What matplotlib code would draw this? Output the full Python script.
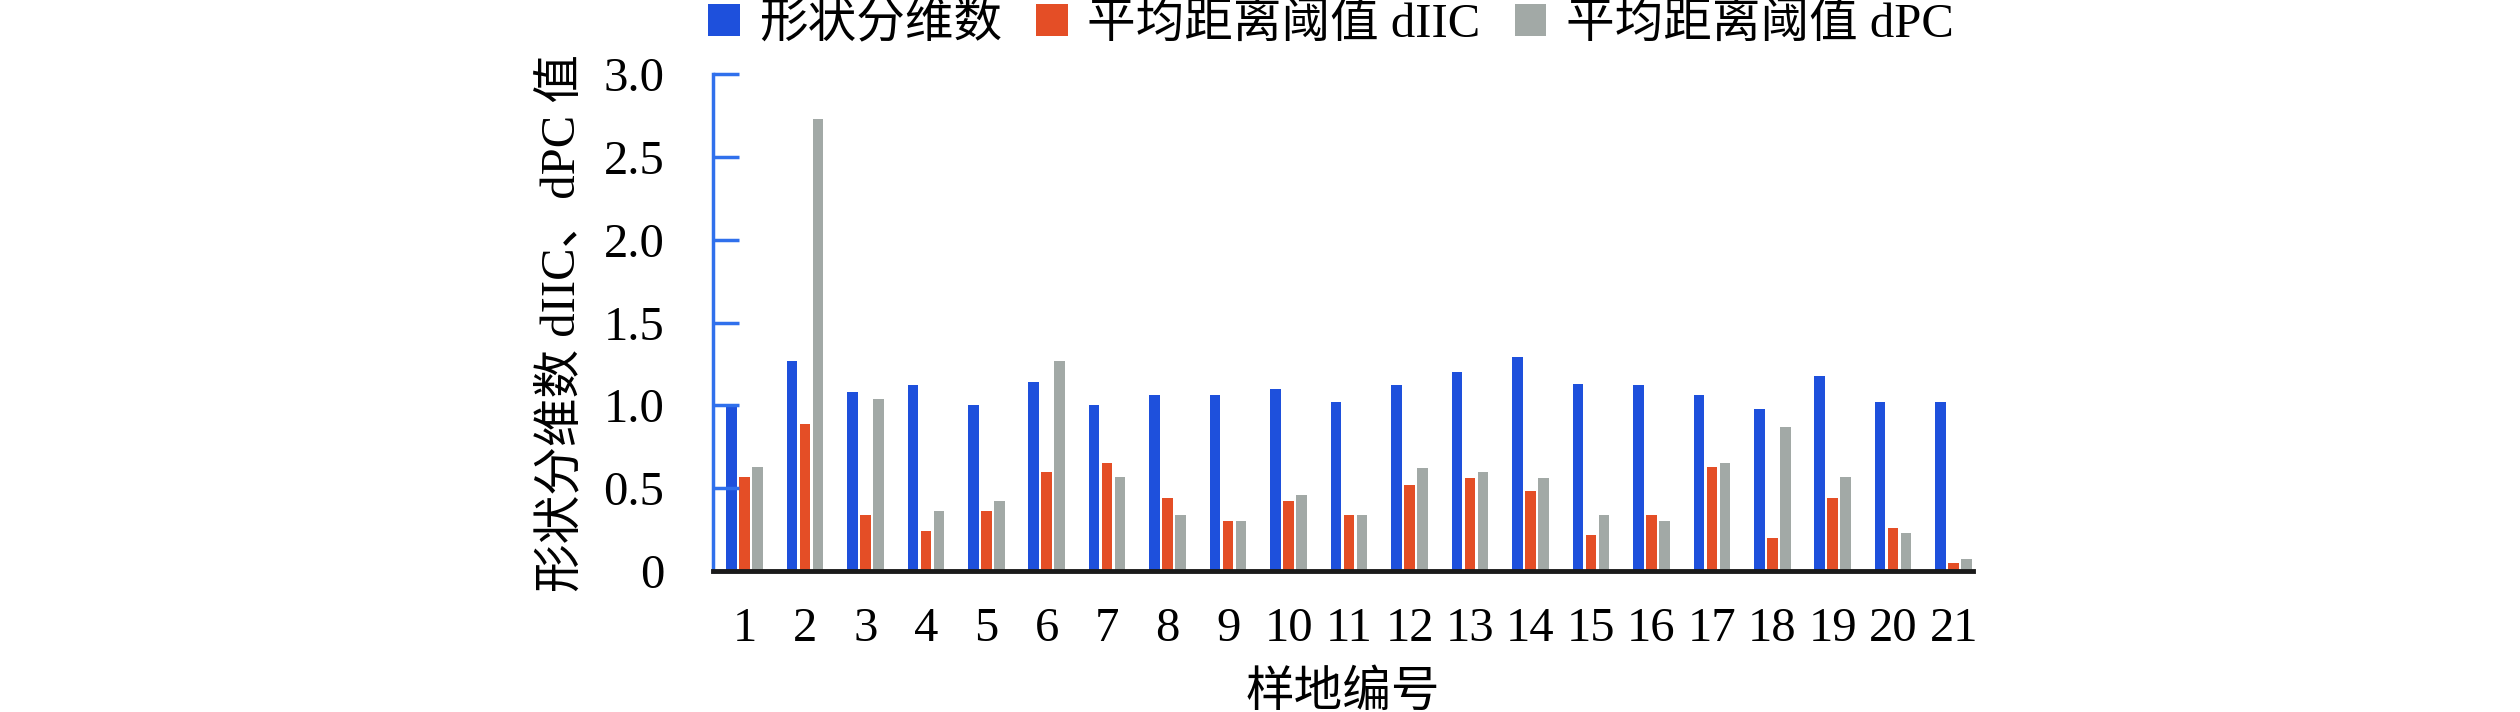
import numpy as np
import matplotlib.pyplot as plt
from matplotlib.patches import Patch

plt.rcParams['font.family'] = ['Liberation Serif', 'Noto Sans CJK SC', 'DejaVu Sans']

# data
sites = [str(i) for i in range(1, 22)]
shape_dim = [1.00, 1.27, 1.08, 1.12, 1.00, 1.14, 1.00, 1.06, 1.06, 1.10, 1.02,
             1.12, 1.20, 1.29, 1.13, 1.12, 1.06, 0.98, 1.18, 1.02, 1.02]
d_iic = [0.57, 0.89, 0.34, 0.24, 0.36, 0.60, 0.65, 0.44, 0.30, 0.42, 0.34,
         0.52, 0.56, 0.48, 0.22, 0.34, 0.63, 0.20, 0.44, 0.26, 0.05]
d_pc = [0.63, 2.73, 1.04, 0.36, 0.42, 1.27, 0.57, 0.34, 0.30, 0.46, 0.34,
        0.62, 0.60, 0.56, 0.34, 0.30, 0.65, 0.87, 0.57, 0.23, 0.07]
labels = ['形状分维数', '平均距离阈值 dIIC', '平均距离阈值 dPC']
colors = ['#1e50dc', '#e44e26', '#a2a9a6']

fig = plt.figure(figsize=(25.2, 7.12), dpi=100)
ax = fig.add_axes([713/2520, 1-571/712, 1260/2520, 497/712])

x = np.arange(1, len(sites)+1)
w = 0.175
off = 0.215
for k, vals in enumerate([shape_dim, d_iic, d_pc]):
    ax.bar(x + (k-1)*off, vals, width=w, color=colors[k], linewidth=0)

ax.set_xlim(0.48, 21.32)
ax.set_ylim(0, 3.0)
ax.set_xticks(x)
ax.set_xticklabels(sites)
ax.set_yticks([0, 0.5, 1.0, 1.5, 2.0, 2.5, 3.0])
ax.set_yticklabels(['0', '0.5', '1.0', '1.5', '2.0', '2.5', '3.0'])

for s in ['top', 'right']:
    ax.spines[s].set_visible(False)
ax.spines['left'].set_color('#3070ec')
ax.spines['left'].set_linewidth(2.5)
ax.spines['bottom'].set_color('#1a1a1a')
ax.spines['bottom'].set_linewidth(3.5)
ax.tick_params(axis='y', direction='in', length=19, width=2.5, color='#3070ec',
               labelsize=35, pad=35)
ax.tick_params(axis='x', length=0, labelsize=35, pad=26)

ax.set_xlabel('样地编号', fontsize=35, labelpad=14)
ax.set_ylabel('形状分维数 dIIC、dPC 值', fontsize=35, labelpad=14)

handles = [Patch(facecolor=c, edgecolor='none') for c in colors]
fig.legend(handles, labels, loc='center left', bbox_to_anchor=(708/2520, 1-24/712),
           ncol=3, frameon=False, fontsize=35, handlelength=0.65, handleheight=0.65,
           handletextpad=0.4, columnspacing=0.7, borderpad=0, borderaxespad=0)

fig.savefig('out.png', dpi=100)
